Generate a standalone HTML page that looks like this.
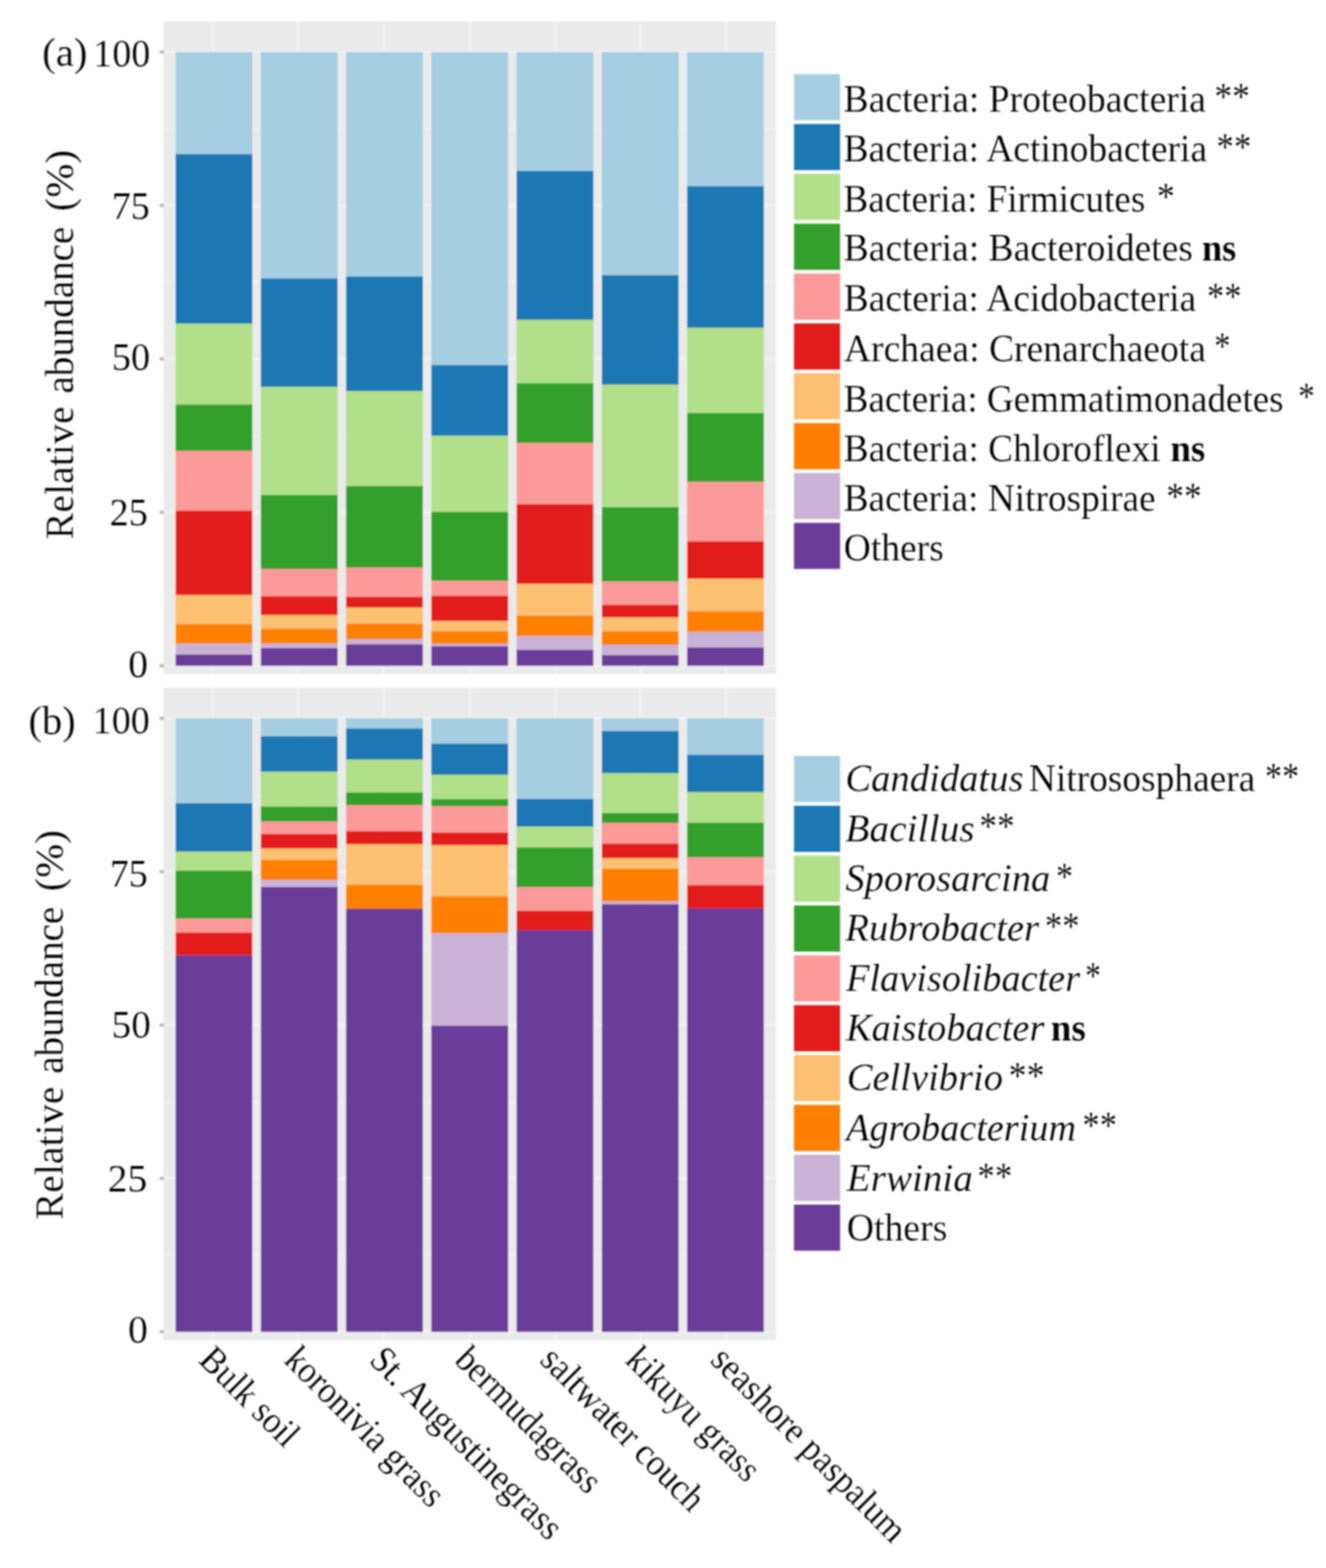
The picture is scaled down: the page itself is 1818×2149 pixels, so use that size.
<!DOCTYPE html>
<html lang="en"><head><meta charset="utf-8"><title>Relative abundance of phyla and genera</title>
<style>html,body{margin:0;padding:0;background:#fff}body{width:1818px;height:2149px;overflow:hidden}svg{display:block;font-family:"Liberation Serif","Times New Roman",serif;fill:#050505}text{stroke:#fff;stroke-width:0.1px}.i{font-style:italic}.b{font-weight:bold}</style></head><body>
<svg width="1818" height="2149" viewBox="0 0 1818 2149">
<defs><filter id="soft" x="-2%" y="-2%" width="104%" height="104%"><feGaussianBlur stdDeviation="0.90"/></filter><filter id="softt" x="-2%" y="-2%" width="104%" height="104%"><feGaussianBlur stdDeviation="0.80"/></filter></defs>
<rect width="1818" height="2149" fill="#fff"/>
<g filter="url(#soft)">
<g id="panel-a">
<rect x="224.1" y="29.4" width="839.9" height="894.4" fill="#EBEBEB"/>
<line x1="224.1" x2="1064.0" y1="71.20" y2="71.20" stroke="#F3F3F3" stroke-width="3"/>
<line x1="224.1" x2="1064.0" y1="176.34" y2="176.34" stroke="#EFEFEF" stroke-width="2"/>
<line x1="224.1" x2="1064.0" y1="281.47" y2="281.47" stroke="#F3F3F3" stroke-width="3"/>
<line x1="224.1" x2="1064.0" y1="386.61" y2="386.61" stroke="#EFEFEF" stroke-width="2"/>
<line x1="224.1" x2="1064.0" y1="491.75" y2="491.75" stroke="#F3F3F3" stroke-width="3"/>
<line x1="224.1" x2="1064.0" y1="596.89" y2="596.89" stroke="#EFEFEF" stroke-width="2"/>
<line x1="224.1" x2="1064.0" y1="702.02" y2="702.02" stroke="#F3F3F3" stroke-width="3"/>
<line x1="224.1" x2="1064.0" y1="807.16" y2="807.16" stroke="#EFEFEF" stroke-width="2"/>
<line x1="224.1" x2="1064.0" y1="912.30" y2="912.30" stroke="#F3F3F3" stroke-width="3"/>
<line x1="291.70" x2="291.70" y1="29.4" y2="923.8" stroke="#F3F3F3" stroke-width="3"/>
<line x1="408.50" x2="408.50" y1="29.4" y2="923.8" stroke="#F3F3F3" stroke-width="3"/>
<line x1="525.90" x2="525.90" y1="29.4" y2="923.8" stroke="#F3F3F3" stroke-width="3"/>
<line x1="644.50" x2="644.50" y1="29.4" y2="923.8" stroke="#F3F3F3" stroke-width="3"/>
<line x1="761.50" x2="761.50" y1="29.4" y2="923.8" stroke="#F3F3F3" stroke-width="3"/>
<line x1="878.00" x2="878.00" y1="29.4" y2="923.8" stroke="#F3F3F3" stroke-width="3"/>
<line x1="995.60" x2="995.60" y1="29.4" y2="923.8" stroke="#F3F3F3" stroke-width="3"/>
<rect x="240.75" y="71.20" width="105.30" height="140.40" fill="#A6CEE3"/>
<rect x="240.75" y="211.30" width="105.30" height="232.50" fill="#1F78B4"/>
<rect x="240.75" y="443.50" width="105.30" height="111.30" fill="#B2DF8A"/>
<rect x="240.75" y="554.50" width="105.30" height="63.60" fill="#33A02C"/>
<rect x="240.75" y="617.80" width="105.30" height="82.40" fill="#FB9A99"/>
<rect x="240.75" y="699.90" width="105.30" height="115.90" fill="#E31A1C"/>
<rect x="240.75" y="815.50" width="105.30" height="40.30" fill="#FDBF6F"/>
<rect x="240.75" y="855.50" width="105.30" height="26.60" fill="#FF7F00"/>
<rect x="240.75" y="881.80" width="105.30" height="15.60" fill="#CAB2D6"/>
<rect x="240.75" y="897.10" width="105.30" height="15.50" fill="#6A3D9A"/>
<rect x="357.62" y="71.20" width="105.30" height="310.80" fill="#A6CEE3"/>
<rect x="357.62" y="381.70" width="105.30" height="148.90" fill="#1F78B4"/>
<rect x="357.62" y="530.30" width="105.30" height="148.50" fill="#B2DF8A"/>
<rect x="357.62" y="678.50" width="105.30" height="101.50" fill="#33A02C"/>
<rect x="357.62" y="779.70" width="105.30" height="37.80" fill="#FB9A99"/>
<rect x="357.62" y="817.20" width="105.30" height="25.90" fill="#E31A1C"/>
<rect x="357.62" y="842.80" width="105.30" height="19.40" fill="#FDBF6F"/>
<rect x="357.62" y="861.90" width="105.30" height="20.20" fill="#FF7F00"/>
<rect x="357.62" y="881.80" width="105.30" height="6.70" fill="#CAB2D6"/>
<rect x="357.62" y="888.20" width="105.30" height="24.40" fill="#6A3D9A"/>
<rect x="474.49" y="71.20" width="105.30" height="308.00" fill="#A6CEE3"/>
<rect x="474.49" y="378.90" width="105.30" height="157.50" fill="#1F78B4"/>
<rect x="474.49" y="536.10" width="105.30" height="130.40" fill="#B2DF8A"/>
<rect x="474.49" y="666.20" width="105.30" height="112.10" fill="#33A02C"/>
<rect x="474.49" y="778.00" width="105.30" height="40.30" fill="#FB9A99"/>
<rect x="474.49" y="818.00" width="105.30" height="14.90" fill="#E31A1C"/>
<rect x="474.49" y="832.60" width="105.30" height="22.70" fill="#FDBF6F"/>
<rect x="474.49" y="855.00" width="105.30" height="21.50" fill="#FF7F00"/>
<rect x="474.49" y="876.20" width="105.30" height="7.20" fill="#CAB2D6"/>
<rect x="474.49" y="883.10" width="105.30" height="29.50" fill="#6A3D9A"/>
<rect x="591.36" y="71.20" width="105.30" height="429.50" fill="#A6CEE3"/>
<rect x="591.36" y="500.40" width="105.30" height="97.20" fill="#1F78B4"/>
<rect x="591.36" y="597.30" width="105.30" height="104.60" fill="#B2DF8A"/>
<rect x="591.36" y="701.60" width="105.30" height="94.70" fill="#33A02C"/>
<rect x="591.36" y="796.00" width="105.30" height="21.00" fill="#FB9A99"/>
<rect x="591.36" y="816.70" width="105.30" height="34.80" fill="#E31A1C"/>
<rect x="591.36" y="851.20" width="105.30" height="14.30" fill="#FDBF6F"/>
<rect x="591.36" y="865.20" width="105.30" height="17.40" fill="#FF7F00"/>
<rect x="591.36" y="882.30" width="105.30" height="3.80" fill="#CAB2D6"/>
<rect x="591.36" y="885.80" width="105.30" height="26.80" fill="#6A3D9A"/>
<rect x="708.23" y="71.20" width="105.30" height="163.40" fill="#A6CEE3"/>
<rect x="708.23" y="234.30" width="105.30" height="204.40" fill="#1F78B4"/>
<rect x="708.23" y="438.40" width="105.30" height="87.30" fill="#B2DF8A"/>
<rect x="708.23" y="525.40" width="105.30" height="81.70" fill="#33A02C"/>
<rect x="708.23" y="606.80" width="105.30" height="84.50" fill="#FB9A99"/>
<rect x="708.23" y="691.00" width="105.30" height="109.50" fill="#E31A1C"/>
<rect x="708.23" y="800.20" width="105.30" height="44.10" fill="#FDBF6F"/>
<rect x="708.23" y="844.00" width="105.30" height="27.90" fill="#FF7F00"/>
<rect x="708.23" y="871.60" width="105.30" height="19.40" fill="#CAB2D6"/>
<rect x="708.23" y="890.70" width="105.30" height="21.90" fill="#6A3D9A"/>
<rect x="825.10" y="71.20" width="105.30" height="306.20" fill="#A6CEE3"/>
<rect x="825.10" y="377.10" width="105.30" height="150.40" fill="#1F78B4"/>
<rect x="825.10" y="527.20" width="105.30" height="168.20" fill="#B2DF8A"/>
<rect x="825.10" y="695.10" width="105.30" height="102.30" fill="#33A02C"/>
<rect x="825.10" y="797.10" width="105.30" height="32.20" fill="#FB9A99"/>
<rect x="825.10" y="829.00" width="105.30" height="17.40" fill="#E31A1C"/>
<rect x="825.10" y="846.10" width="105.30" height="19.40" fill="#FDBF6F"/>
<rect x="825.10" y="865.20" width="105.30" height="18.90" fill="#FF7F00"/>
<rect x="825.10" y="883.80" width="105.30" height="14.40" fill="#CAB2D6"/>
<rect x="825.10" y="897.90" width="105.30" height="14.70" fill="#6A3D9A"/>
<rect x="941.97" y="71.20" width="105.30" height="184.30" fill="#A6CEE3"/>
<rect x="941.97" y="255.20" width="105.30" height="194.40" fill="#1F78B4"/>
<rect x="941.97" y="449.30" width="105.30" height="117.00" fill="#B2DF8A"/>
<rect x="941.97" y="566.00" width="105.30" height="94.70" fill="#33A02C"/>
<rect x="941.97" y="660.40" width="105.30" height="81.90" fill="#FB9A99"/>
<rect x="941.97" y="742.00" width="105.30" height="51.30" fill="#E31A1C"/>
<rect x="941.97" y="793.00" width="105.30" height="45.20" fill="#FDBF6F"/>
<rect x="941.97" y="837.90" width="105.30" height="28.10" fill="#FF7F00"/>
<rect x="941.97" y="865.70" width="105.30" height="22.00" fill="#CAB2D6"/>
<rect x="941.97" y="887.40" width="105.30" height="25.20" fill="#6A3D9A"/>
<line x1="218.7" x2="224.9" y1="71.30" y2="71.30" stroke="#bcbcbc" stroke-width="4.6"/>
<line x1="218.7" x2="224.9" y1="281.57" y2="281.57" stroke="#bcbcbc" stroke-width="4.6"/>
<line x1="218.7" x2="224.9" y1="491.85" y2="491.85" stroke="#bcbcbc" stroke-width="4.6"/>
<line x1="218.7" x2="224.9" y1="702.12" y2="702.12" stroke="#bcbcbc" stroke-width="4.6"/>
<line x1="218.7" x2="224.9" y1="912.40" y2="912.40" stroke="#bcbcbc" stroke-width="4.6"/>
</g>
<g id="panel-b">
<rect x="224.1" y="942.6" width="839.9" height="894.4" fill="#EBEBEB"/>
<line x1="224.1" x2="1064.0" y1="984.40" y2="984.40" stroke="#F3F3F3" stroke-width="3"/>
<line x1="224.1" x2="1064.0" y1="1089.50" y2="1089.50" stroke="#EFEFEF" stroke-width="2"/>
<line x1="224.1" x2="1064.0" y1="1194.60" y2="1194.60" stroke="#F3F3F3" stroke-width="3"/>
<line x1="224.1" x2="1064.0" y1="1299.70" y2="1299.70" stroke="#EFEFEF" stroke-width="2"/>
<line x1="224.1" x2="1064.0" y1="1404.80" y2="1404.80" stroke="#F3F3F3" stroke-width="3"/>
<line x1="224.1" x2="1064.0" y1="1509.90" y2="1509.90" stroke="#EFEFEF" stroke-width="2"/>
<line x1="224.1" x2="1064.0" y1="1615.00" y2="1615.00" stroke="#F3F3F3" stroke-width="3"/>
<line x1="224.1" x2="1064.0" y1="1720.10" y2="1720.10" stroke="#EFEFEF" stroke-width="2"/>
<line x1="224.1" x2="1064.0" y1="1825.20" y2="1825.20" stroke="#F3F3F3" stroke-width="3"/>
<line x1="291.70" x2="291.70" y1="942.6" y2="1837.0" stroke="#F3F3F3" stroke-width="3"/>
<line x1="408.50" x2="408.50" y1="942.6" y2="1837.0" stroke="#F3F3F3" stroke-width="3"/>
<line x1="525.90" x2="525.90" y1="942.6" y2="1837.0" stroke="#F3F3F3" stroke-width="3"/>
<line x1="644.50" x2="644.50" y1="942.6" y2="1837.0" stroke="#F3F3F3" stroke-width="3"/>
<line x1="761.50" x2="761.50" y1="942.6" y2="1837.0" stroke="#F3F3F3" stroke-width="3"/>
<line x1="878.00" x2="878.00" y1="942.6" y2="1837.0" stroke="#F3F3F3" stroke-width="3"/>
<line x1="995.60" x2="995.60" y1="942.6" y2="1837.0" stroke="#F3F3F3" stroke-width="3"/>
<rect x="240.75" y="984.40" width="105.30" height="116.80" fill="#A6CEE3"/>
<rect x="240.75" y="1100.90" width="105.30" height="66.60" fill="#1F78B4"/>
<rect x="240.75" y="1167.20" width="105.30" height="26.40" fill="#B2DF8A"/>
<rect x="240.75" y="1193.30" width="105.30" height="66.10" fill="#33A02C"/>
<rect x="240.75" y="1259.10" width="105.30" height="19.40" fill="#FB9A99"/>
<rect x="240.75" y="1278.20" width="105.30" height="31.40" fill="#E31A1C"/>
<rect x="240.75" y="1309.30" width="105.30" height="516.20" fill="#6A3D9A"/>
<rect x="357.62" y="984.40" width="105.30" height="25.00" fill="#A6CEE3"/>
<rect x="357.62" y="1009.10" width="105.30" height="48.80" fill="#1F78B4"/>
<rect x="357.62" y="1057.60" width="105.30" height="48.20" fill="#B2DF8A"/>
<rect x="357.62" y="1105.50" width="105.30" height="20.70" fill="#33A02C"/>
<rect x="357.62" y="1125.90" width="105.30" height="17.40" fill="#FB9A99"/>
<rect x="357.62" y="1143.00" width="105.30" height="20.00" fill="#E31A1C"/>
<rect x="357.62" y="1162.70" width="105.30" height="16.30" fill="#FDBF6F"/>
<rect x="357.62" y="1178.70" width="105.30" height="27.60" fill="#FF7F00"/>
<rect x="357.62" y="1206.00" width="105.30" height="10.00" fill="#CAB2D6"/>
<rect x="357.62" y="1215.70" width="105.30" height="609.80" fill="#6A3D9A"/>
<rect x="474.49" y="984.40" width="105.30" height="14.30" fill="#A6CEE3"/>
<rect x="474.49" y="998.40" width="105.30" height="42.90" fill="#1F78B4"/>
<rect x="474.49" y="1041.00" width="105.30" height="45.40" fill="#B2DF8A"/>
<rect x="474.49" y="1086.10" width="105.30" height="17.70" fill="#33A02C"/>
<rect x="474.49" y="1103.50" width="105.30" height="36.00" fill="#FB9A99"/>
<rect x="474.49" y="1139.20" width="105.30" height="18.10" fill="#E31A1C"/>
<rect x="474.49" y="1157.00" width="105.30" height="56.00" fill="#FDBF6F"/>
<rect x="474.49" y="1212.70" width="105.30" height="33.20" fill="#FF7F00"/>
<rect x="474.49" y="1245.60" width="105.30" height="579.90" fill="#6A3D9A"/>
<rect x="591.36" y="984.40" width="105.30" height="35.20" fill="#A6CEE3"/>
<rect x="591.36" y="1019.30" width="105.30" height="42.90" fill="#1F78B4"/>
<rect x="591.36" y="1061.90" width="105.30" height="33.70" fill="#B2DF8A"/>
<rect x="591.36" y="1095.30" width="105.30" height="9.70" fill="#33A02C"/>
<rect x="591.36" y="1104.70" width="105.30" height="36.60" fill="#FB9A99"/>
<rect x="591.36" y="1141.00" width="105.30" height="17.60" fill="#E31A1C"/>
<rect x="591.36" y="1158.30" width="105.30" height="70.50" fill="#FDBF6F"/>
<rect x="591.36" y="1228.50" width="105.30" height="50.50" fill="#FF7F00"/>
<rect x="591.36" y="1278.70" width="105.30" height="127.40" fill="#CAB2D6"/>
<rect x="591.36" y="1405.80" width="105.30" height="419.70" fill="#6A3D9A"/>
<rect x="708.23" y="984.40" width="105.30" height="110.90" fill="#A6CEE3"/>
<rect x="708.23" y="1095.00" width="105.30" height="38.10" fill="#1F78B4"/>
<rect x="708.23" y="1132.80" width="105.30" height="29.10" fill="#B2DF8A"/>
<rect x="708.23" y="1161.60" width="105.30" height="54.40" fill="#33A02C"/>
<rect x="708.23" y="1215.70" width="105.30" height="33.00" fill="#FB9A99"/>
<rect x="708.23" y="1248.40" width="105.30" height="26.80" fill="#E31A1C"/>
<rect x="708.23" y="1274.90" width="105.30" height="550.60" fill="#6A3D9A"/>
<rect x="825.10" y="984.40" width="105.30" height="17.80" fill="#A6CEE3"/>
<rect x="825.10" y="1001.90" width="105.30" height="58.00" fill="#1F78B4"/>
<rect x="825.10" y="1059.60" width="105.30" height="55.10" fill="#B2DF8A"/>
<rect x="825.10" y="1114.40" width="105.30" height="13.60" fill="#33A02C"/>
<rect x="825.10" y="1127.70" width="105.30" height="28.90" fill="#FB9A99"/>
<rect x="825.10" y="1156.30" width="105.30" height="20.20" fill="#E31A1C"/>
<rect x="825.10" y="1176.20" width="105.30" height="14.80" fill="#FDBF6F"/>
<rect x="825.10" y="1190.70" width="105.30" height="45.00" fill="#FF7F00"/>
<rect x="825.10" y="1235.40" width="105.30" height="4.30" fill="#CAB2D6"/>
<rect x="825.10" y="1239.40" width="105.30" height="586.10" fill="#6A3D9A"/>
<rect x="941.97" y="984.40" width="105.30" height="50.50" fill="#A6CEE3"/>
<rect x="941.97" y="1034.60" width="105.30" height="51.30" fill="#1F78B4"/>
<rect x="941.97" y="1085.60" width="105.30" height="42.40" fill="#B2DF8A"/>
<rect x="941.97" y="1127.70" width="105.30" height="47.50" fill="#33A02C"/>
<rect x="941.97" y="1174.90" width="105.30" height="38.60" fill="#FB9A99"/>
<rect x="941.97" y="1213.20" width="105.30" height="32.10" fill="#E31A1C"/>
<rect x="941.97" y="1245.00" width="105.30" height="580.50" fill="#6A3D9A"/>
<line x1="218.7" x2="224.9" y1="984.50" y2="984.50" stroke="#bcbcbc" stroke-width="4.6"/>
<line x1="218.7" x2="224.9" y1="1194.70" y2="1194.70" stroke="#bcbcbc" stroke-width="4.6"/>
<line x1="218.7" x2="224.9" y1="1404.90" y2="1404.90" stroke="#bcbcbc" stroke-width="4.6"/>
<line x1="218.7" x2="224.9" y1="1615.10" y2="1615.10" stroke="#bcbcbc" stroke-width="4.6"/>
<line x1="218.7" x2="224.9" y1="1825.30" y2="1825.30" stroke="#bcbcbc" stroke-width="4.6"/>
</g>
<rect x="1088.6" y="101.60" width="63.2" height="63.2" fill="#A6CEE3"/>
<rect x="1088.6" y="169.93" width="63.2" height="63.2" fill="#1F78B4"/>
<rect x="1088.6" y="238.26" width="63.2" height="63.2" fill="#B2DF8A"/>
<rect x="1088.6" y="306.59" width="63.2" height="63.2" fill="#33A02C"/>
<rect x="1088.6" y="374.92" width="63.2" height="63.2" fill="#FB9A99"/>
<rect x="1088.6" y="443.25" width="63.2" height="63.2" fill="#E31A1C"/>
<rect x="1088.6" y="511.58" width="63.2" height="63.2" fill="#FDBF6F"/>
<rect x="1088.6" y="579.91" width="63.2" height="63.2" fill="#FF7F00"/>
<rect x="1088.6" y="648.24" width="63.2" height="63.2" fill="#CAB2D6"/>
<rect x="1088.6" y="716.57" width="63.2" height="63.2" fill="#6A3D9A"/>
<rect x="1088.6" y="1036.00" width="63.2" height="63.2" fill="#A6CEE3"/>
<rect x="1088.6" y="1104.33" width="63.2" height="63.2" fill="#1F78B4"/>
<rect x="1088.6" y="1172.66" width="63.2" height="63.2" fill="#B2DF8A"/>
<rect x="1088.6" y="1240.99" width="63.2" height="63.2" fill="#33A02C"/>
<rect x="1088.6" y="1309.32" width="63.2" height="63.2" fill="#FB9A99"/>
<rect x="1088.6" y="1377.65" width="63.2" height="63.2" fill="#E31A1C"/>
<rect x="1088.6" y="1445.98" width="63.2" height="63.2" fill="#FDBF6F"/>
<rect x="1088.6" y="1514.31" width="63.2" height="63.2" fill="#FF7F00"/>
<rect x="1088.6" y="1582.64" width="63.2" height="63.2" fill="#CAB2D6"/>
<rect x="1088.6" y="1650.97" width="63.2" height="63.2" fill="#6A3D9A"/>
</g>
<g filter="url(#softt)">
<text font-size="53.3" transform="translate(1156.50,152.90) scale(0.9682,1)">Bacteria: Proteobacteria</text>
<text font-size="53.3" transform="translate(1664.92,150.40) scale(0.9173,1)">**</text>
<text font-size="53.3" transform="translate(1156.50,221.23) scale(0.9655,1)">Bacteria: Actinobacteria</text>
<text font-size="53.3" transform="translate(1667.77,218.73) scale(0.8969,1)">**</text>
<text font-size="53.3" transform="translate(1156.51,289.56) scale(0.9544,1)">Bacteria: Firmicutes</text>
<text font-size="53.3" transform="translate(1586.06,287.06) scale(0.9350,1)">*</text>
<text font-size="53.3" transform="translate(1156.70,357.09) scale(0.9662,1)">Bacteria: Bacteroidetes</text>
<text class="b" font-size="53.3" transform="translate(1647.90,357.09) scale(0.9352,1)">ns</text>
<text font-size="53.3" transform="translate(1156.70,426.22) scale(0.9640,1)">Bacteria: Acidobacteria</text>
<text font-size="53.3" transform="translate(1654.78,423.72) scale(0.8908,1)">**</text>
<text font-size="53.3" transform="translate(1157.10,494.55) scale(0.9670,1)">Archaea: Crenarchaeota</text>
<text font-size="53.3" transform="translate(1664.83,492.05) scale(0.8322,1)">*</text>
<text font-size="53.3" transform="translate(1156.71,563.68) scale(0.9548,1)">Bacteria: Gemmatimonadetes</text>
<text font-size="53.3" transform="translate(1779.70,561.18) scale(0.8635,1)">*</text>
<text font-size="53.3" transform="translate(1156.70,631.71) scale(0.9629,1)">Bacteria: Chloroflexi</text>
<text class="b" font-size="53.3" transform="translate(1604.66,631.71) scale(0.9497,1)">ns</text>
<text font-size="53.3" transform="translate(1156.71,700.04) scale(0.9604,1)">Bacteria: Nitrospirae</text>
<text font-size="53.3" transform="translate(1599.00,697.54) scale(0.9132,1)">**</text>
<text font-size="53.3" transform="translate(1156.70,768.47) scale(0.9662,1)">Others</text>
<text class="i" font-size="53.3" transform="translate(1159.02,1084.40) scale(0.9944,1)">Candidatus</text>
<text font-size="53.3" transform="translate(1410.59,1084.40) scale(0.9628,1)">Nitrososphaera</text>
<text font-size="53.3" transform="translate(1734.31,1081.90) scale(0.8806,1)">**</text>
<text class="i" font-size="53.3" transform="translate(1159.10,1152.73) scale(1.0142,1)">Bacillus</text>
<text font-size="53.3" transform="translate(1342.79,1150.23) scale(0.9050,1)">**</text>
<text class="i" font-size="53.3" transform="translate(1159.09,1221.06) scale(0.9918,1)">Sporosarcina</text>
<text font-size="53.3" transform="translate(1447.78,1218.56) scale(0.8814,1)">*</text>
<text class="i" font-size="53.3" transform="translate(1159.11,1289.39) scale(0.9930,1)">Rubrobacter</text>
<text font-size="53.3" transform="translate(1432.43,1286.89) scale(0.8969,1)">**</text>
<text class="i" font-size="53.3" transform="translate(1159.91,1357.72) scale(0.9858,1)">Flavisolibacter</text>
<text font-size="53.3" transform="translate(1487.76,1355.22) scale(0.8143,1)">*</text>
<text class="i" font-size="53.3" transform="translate(1159.92,1426.05) scale(0.9879,1)">Kaistobacter</text>
<text class="b" font-size="53.3" transform="translate(1440.77,1426.05) scale(0.9497,1)">ns</text>
<text class="i" font-size="53.3" transform="translate(1160.93,1494.38) scale(0.9912,1)">Cellvibrio</text>
<text font-size="53.3" transform="translate(1382.80,1491.88) scale(0.9275,1)">**</text>
<text class="i" font-size="53.3" transform="translate(1159.96,1562.71) scale(0.9836,1)">Agrobacterium</text>
<text font-size="53.3" transform="translate(1483.95,1560.21) scale(0.8887,1)">**</text>
<text class="i" font-size="53.3" transform="translate(1161.04,1632.04) scale(1.0059,1)">Erwinia</text>
<text font-size="53.3" transform="translate(1339.99,1629.54) scale(0.8969,1)">**</text>
<text font-size="53.3" transform="translate(1160.99,1699.67) scale(0.9698,1)">Others</text>
<text font-size="53.0" transform="translate(127.82,91.20) scale(0.9855,1)">100</text>
<text font-size="53.0" transform="translate(153.27,299.97) scale(0.9849,1)">75</text>
<text font-size="53.0" transform="translate(153.27,506.70) scale(0.9926,1)">50</text>
<text font-size="53.0" transform="translate(150.30,719.82) scale(0.9901,1)">25</text>
<text font-size="53.0" transform="translate(175.67,927.60) scale(1.0249,1)">0</text>
<text font-size="53.0" transform="translate(127.02,1004.70) scale(0.9855,1)">100</text>
<text font-size="53.0" transform="translate(150.47,1214.90) scale(0.9849,1)">75</text>
<text font-size="53.0" transform="translate(153.12,1421.60) scale(1.0111,1)">50</text>
<text font-size="53.0" transform="translate(147.73,1633.00) scale(1.0245,1)">25</text>
<text font-size="53.0" transform="translate(175.46,1839.80) scale(1.0292,1)">0</text>
<text font-size="55.0" transform="translate(57.76,90.00) scale(1.0199,1)">(a)</text>
<text font-size="55.0" transform="translate(38.97,1005.50) scale(1.0123,1)">(b)</text>
<text font-size="54.5" transform="translate(100.40,739.30) rotate(-90) scale(1.0047,1)">Relative</text>
<text font-size="54.5" transform="translate(100.40,539.51) rotate(-90) scale(0.9824,1)">abundance</text>
<text font-size="54.5" transform="translate(100.40,289.64) rotate(-90) scale(1.0276,1)">(%)</text>
<text font-size="54.5" transform="translate(85.80,1671.50) rotate(-90) scale(1.0047,1)">Relative</text>
<text font-size="54.5" transform="translate(85.80,1471.71) rotate(-90) scale(0.9824,1)">abundance</text>
<text font-size="54.5" transform="translate(85.80,1221.84) rotate(-90) scale(1.0276,1)">(%)</text>
<text font-size="51.5" transform="translate(270.70,1866.00) rotate(45) scale(0.9050,1)">Bulk soil</text>
<text font-size="51.5" transform="translate(387.64,1866.00) rotate(45) scale(0.9050,1)">koronivia grass</text>
<text font-size="51.5" transform="translate(504.58,1866.00) rotate(45) scale(0.9120,1)">St. Augustinegrass</text>
<text font-size="51.5" transform="translate(621.52,1866.00) rotate(45) scale(0.9080,1)">bermudagrass</text>
<text font-size="51.5" transform="translate(738.46,1866.00) rotate(45) scale(0.9150,1)">saltwater couch</text>
<text font-size="51.5" transform="translate(855.40,1866.00) rotate(45) scale(0.9050,1)">kikuyu grass</text>
<text font-size="51.5" transform="translate(972.34,1866.00) rotate(45) scale(0.9150,1)">seashore paspalum</text>
</g></svg></body></html>
